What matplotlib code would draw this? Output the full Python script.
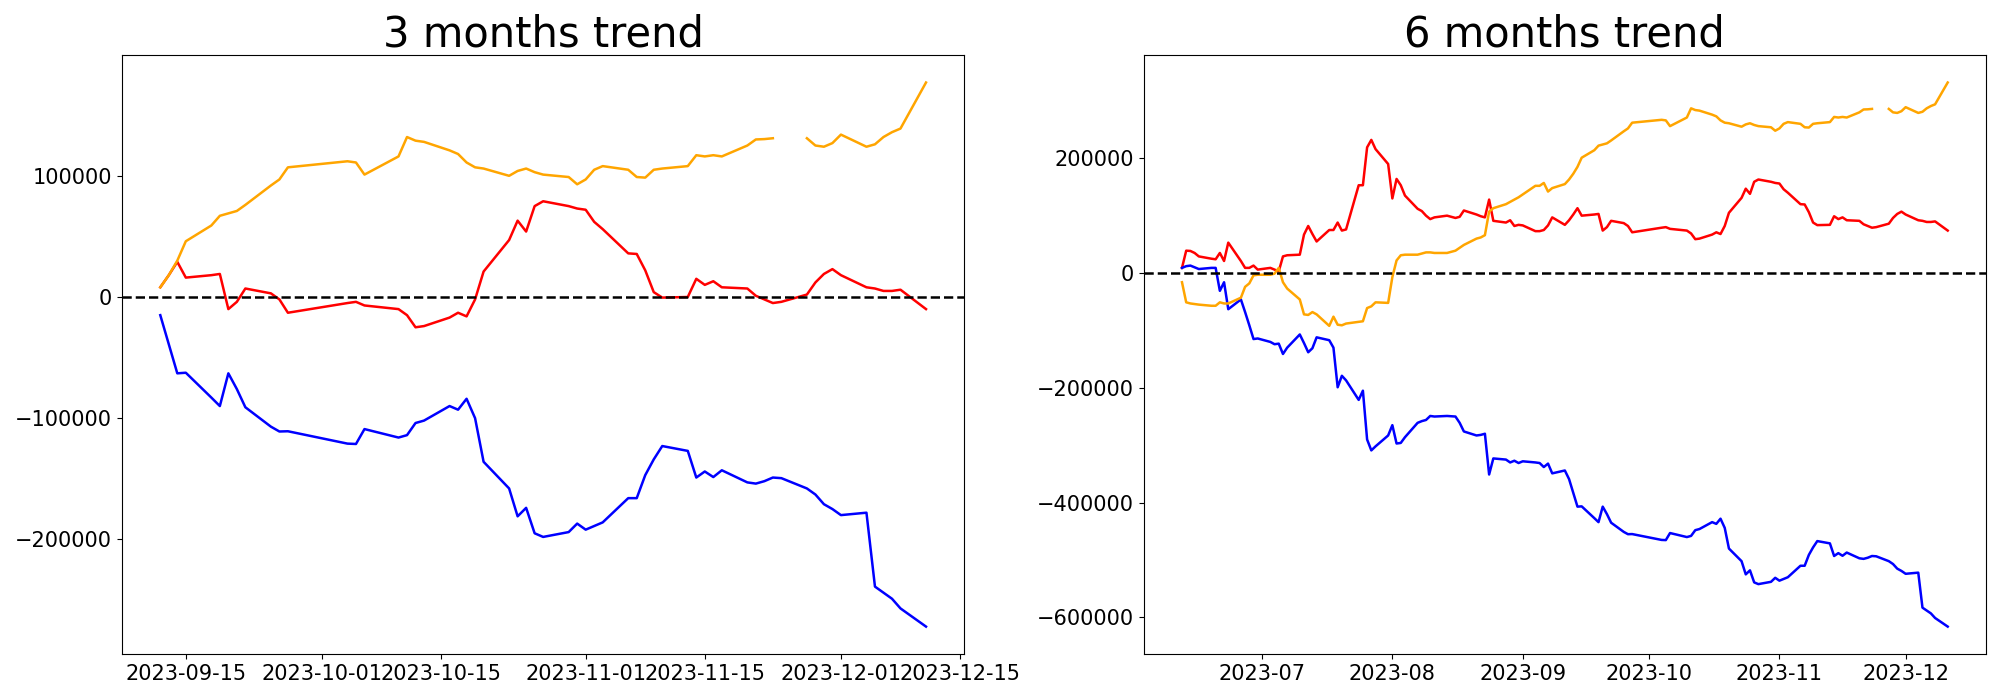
import numpy as np
import pandas as pd
import matplotlib
matplotlib.use("Agg")
import matplotlib.pyplot as plt

# trading calendar (KRX holidays in the window)
holidays = ["2023-08-15", "2023-09-28", "2023-09-29", "2023-10-02", "2023-10-03", "2023-10-09"]
dates_head = pd.bdate_range("2023-06-12", "2023-09-11", freq="C", holidays=holidays)
dates_3m = pd.bdate_range("2023-09-12", "2023-12-11", freq="C", holidays=holidays)

# cumulative flows, last 3 months (from 2023-09-12)
red_3m = [8000, 18000, 29000, 16000, 18000, 19000, -10000, -4000, 7000, 3000, -2000, -13000,
          -5000, -4000, -7000, -10000, -15000, -25000, -24000, -17000, -13000, -16000, -2000,
          21000, 47000, 63000, 54000, 75000, 79000, 75000, 73000,
          72000, 62000, 56000, 36000, 35500, 22000, 4000, -500, 0, 15000, 10000, 13000, 8000,
          7000, 1000, -2000, -5000, -4000, 2000, 12000, 19000, 23000,
          18000, 8000, 7000, 5000, 5000, 6000, -10000]
blue_3m = [-15000, -39000, -63000, -62500, -83000, -90000, -63000, -76000, -91000, -107000, -111000, -110800,
           -121000, -121300, -109000, -116000, -114000, -104000, -102000, -90000, -93000, -84000, -100000,
           -136000, -158000, -181000, -174000, -195000, -198000, -194000, -187000,
           -192000, -189000, -186000, -166000, -166000, -147000, -134000, -123000, -127000, -149000, -144000,
           -148600, -143000, -153000, -154000, -152000, -149000, -149500, -158000, -163000, -171000, -175000,
           -180000, -178000, -239000, -244000, -249000, -257000, -272000]
orange_3m = [8000, 18000, 30000, 46000, 59000, 67000, 69000, 71000, 76000, 92000, 97000, 107000,
             112000, 111000, 101000, 116000, 132000, 129000, 128000, 121000, 118000, 111000, 107000,
             106000, 100000, 104000, 106000, 103000, 101000, 99000, 93000,
             97000, 105000, 108000, 105000, 99000, 98500, 105000, 106000, 108000, 117000, 116000,
             117000, 116000, 125000, 130000, 130300, 131000, np.nan, 131000, 125000, 124000, 127000,
             134000, 124000, 126000, 132000, 136000, 139000, 177000]

# cumulative flows, 2023-06-12 .. 2023-09-11 (start of the 6 month window)
red_head = [9000, 39000, 38500, 35000, 29000, 25000, 24000, 35000, 21000, 53000, 21000, 9000, 9000, 13000, 6000,
            9000, 6000, 3000, 29000, 31000, 32000, 67000, 82000, 68000, 55000, 75000, 75000, 88000, 74000,
            76000, 153000, 153000, 219000, 232000, 216000, 190000,
            130000, 164000, 153000, 135000, 112000, 108000, 100000, 94000, 97000, 100000, 96000, 98000,
            109000, 102000, 99000, 97000, 128000, 91000, 88000, 92000, 82000, 84000,
            83000, 73000, 73000, 75000, 83000, 97000, 84000]
blue_head = [9000, 12000, 13000, 10000, 7000, 9000, 9000, -31000, -16000, -63000, -46000, -68000, -91000,
             -115000, -114000,
             -120000, -124000, -123000, -141000, -130000, -107000, -122000, -138000, -131000, -112000,
             -117000, -130000, -199000, -179000, -187000, -221000, -205000, -290000, -309000, -302000, -283000,
             -265000, -297000, -296000, -286000, -261000, -258000, -256000, -249000, -250000, -249000,
             -250000, -261000, -276000, -283000, -282000, -280000, -351000, -323000, -325000, -330000,
             -327000, -331000,
             -328000, -330000, -331000, -338000, -332000, -349000, -344000]
orange_head = [-16000, -51000, -53000, -54000, -55000, -57000, -57000, -51000, -53000, -53000, -43000, -24000,
               -18000, -4000, -3000,
               -3000, -1000, 9000, -16000, -27000, -46000, -72000, -73000, -68000, -72000, -92000, -76000,
               -90000, -91000, -88000, -85000, -84000, -61000, -58000, -51000, -52000,
               -7000, 22000, 31000, 32000, 32000, 34000, 36000, 36000, 35000, 35000, 39000, 44000, 49000,
               60000, 62000, 66000, 107000, 113000, 120000, 124000, 128000, 132000,
               137000, 152000, 152000, 157000, 142000, 148000, 155000]

df3 = pd.DataFrame({"red": red_3m, "blue": blue_3m, "orange": orange_3m}, index=dates_3m)
head = pd.DataFrame({"red": red_head, "blue": blue_head, "orange": orange_head}, index=dates_head)
# 6 month window continues the same flows on top of its value at 2023-09-11
df6 = pd.concat([head, df3 + head.iloc[-1]])

fig, axes = plt.subplots(1, 2, figsize=(20, 7), dpi=100)
plt.subplots_adjust(left=0.061, right=0.993, bottom=0.066, top=0.921, wspace=0.213)

for ax, df, title in zip(axes, [df3, df6], ["3 months trend", "6 months trend"]):
    ax.plot(df.index, df["red"], color="red", lw=1.8)
    ax.plot(df.index, df["blue"], color="blue", lw=1.8)
    ax.plot(df.index, df["orange"], color="orange", lw=1.8)
    ax.axhline(0, color="black", linestyle="--", lw=1.8)
    ax.set_title(title, fontsize=30)
    ax.tick_params(labelsize=15)

plt.savefig("out.png")
